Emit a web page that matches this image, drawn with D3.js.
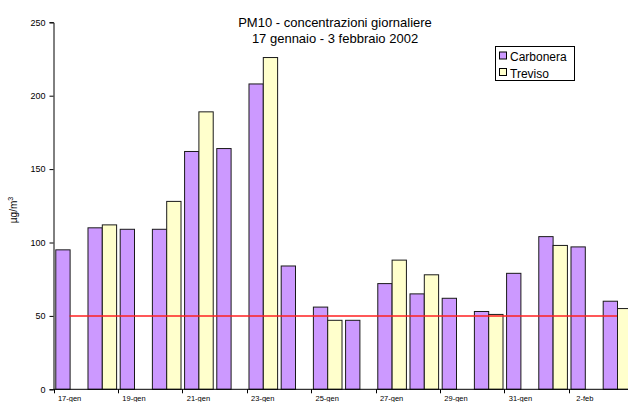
<!DOCTYPE html>
<html>
<head>
<meta charset="utf-8">
<script src="https://cdn.jsdelivr.net/npm/d3@7"></script>
<style>
  body { margin: 0; background: #fff; overflow: hidden; }
  svg { display: block; font-family: "Liberation Sans", Arial, sans-serif; }
</style>
</head>
<body>
<div class="chart"></div>
<script>
// giorni (categorie)
var days = ["17-gen", "18-gen", "19-gen", "20-gen", "21-gen", "22-gen", "23-gen", "24-gen", "25-gen",
            "26-gen", "27-gen", "28-gen", "29-gen", "30-gen", "31-gen", "1-feb", "2-feb", "3-feb"];
var series = ["Carbonera", "Treviso"];
var carbonera = [95, 110, 109, 109, 162, 164, 208, 84, 56, 47, 72, 65, 62, 53, 79, 104, 97, 60];
var treviso = [null, 112, null, 128, 189, null, 226, null, 47, null, 88, 78, null, 51, null, 98, null, 55];
var limit = [50, 50, 50, 50, 50, 50, 50, 50, 50, 50, 50, 50, 50, 50, 50, 50, 50, 50];
var yTicks = [0, 50, 100, 150, 200, 250];
var titleLines = ["PM10 - concentrazioni giornaliere", "17 gennaio - 3 febbraio 2002"];

(function(){
    var width = 628, height = 402;
    var colors = { Carbonera: "#cc99ff", Treviso: "#ffffcc" };

    var svg = d3.select(".chart").append("svg")
                .attr("width", width)
                .attr("height", height);

    // plot area runs past the right edge, like the original crop
    var x0 = d3.scaleBand().domain(days).range([53.5, 633.1]).padding(0);
    var x1 = d3.scaleBand().domain(series).range([0, x0.bandwidth()])
               .paddingInner(0).paddingOuter(0.125);
    var y = d3.scaleLinear().domain([0, 250]).range([389.3, 22.3]);

    // rows: one per day
    var rows = days.map(function(d, i) {
        return { day: d, values: [
            { key: "Carbonera", value: carbonera[i] },
            { key: "Treviso", value: treviso[i] }
        ].filter(function(v) { return v.value !== null; }) };
    });

    svg.append("g")
       .selectAll("g")
       .data(rows)
       .enter()
       .append("g")
       .attr("transform", function(d) { return "translate(" + x0(d.day) + ",0)"; })
       .selectAll("rect")
       .data(function(d) { return d.values; })
       .enter()
       .append("rect")
       .attr("x", function(d) { return x1(d.key) + 0.5; })
       .attr("y", function(d) { return y(d.value); })
       .attr("width", x1.bandwidth())
       .attr("height", function(d) { return y(0) - y(d.value); })
       .attr("fill", function(d) { return colors[d.key]; })
       .attr("stroke", "#1a1a1a")
       .attr("stroke-width", 1);

    // limit line 50
    var line = d3.line()
                 .x(function(d, i) { return x0(days[i]) + x0.bandwidth() / 2; })
                 .y(function(d) { return y(d); });
    svg.append("path")
       .datum(limit)
       .attr("d", line)
       .attr("fill", "none")
       .attr("stroke", "#ff2020")
       .attr("stroke-width", 1.5);

    // y axis
    var yAxis = d3.axisLeft(y).tickValues(yTicks).tickSize(4).tickPadding(4);
    var gy = svg.append("g")
                .attr("transform", "translate(53.5,0)")
                .call(yAxis);
    gy.select(".domain").attr("stroke", "#000");
    gy.selectAll("text").style("font-size", "9px").attr("fill", "#000")
      .style("font-family", "'Liberation Sans', Arial, sans-serif");

    // x axis: ticks every two days, on category boundaries
    var bounds = days.filter(function(d, i) { return i % 2 === 0; });
    var gx = svg.append("g").attr("transform", "translate(0," + y(0) + ")");
    gx.append("line")
      .attr("x1", 53.5).attr("x2", width)
      .attr("stroke", "#000");
    gx.selectAll("line.tick")
      .data(bounds)
      .enter()
      .append("line")
      .attr("class", "tick")
      .attr("x1", function(d) { return Math.round(x0(d)) + 0.5; })
      .attr("x2", function(d) { return Math.round(x0(d)) + 0.5; })
      .attr("y1", 0).attr("y2", 4)
      .attr("stroke", "#000");
    gx.selectAll("text")
      .data(bounds)
      .enter()
      .append("text")
      .attr("x", function(d) { return x0(d) + x0.bandwidth() / 2; })
      .attr("y", 12)
      .attr("text-anchor", "middle")
      .style("font-size", "7.5px")
      .text(function(d) { return d; });

    // y label
    var yl = svg.append("text")
                .attr("transform", "translate(17,210) rotate(-90)")
                .attr("text-anchor", "middle")
                .style("font-size", "10px");
    yl.append("tspan").text("\u00b5g/m");
    yl.append("tspan").attr("dy", -4).style("font-size", "7px").text("3");

    // title
    svg.append("g")
       .selectAll("text")
       .data(titleLines)
       .enter()
       .append("text")
       .attr("x", 335)
       .attr("y", function(d, i) { return 27.3 + i * 16; })
       .attr("text-anchor", "middle")
       .style("font-size", "13px")
       .text(function(d) { return d; });

    // legend
    var lg = svg.append("g").attr("transform", "translate(495.5,46.5)");
    lg.append("rect")
      .attr("width", 79).attr("height", 34)
      .attr("fill", "#fff").attr("stroke", "#000");
    var items = lg.selectAll("g")
                  .data(series)
                  .enter()
                  .append("g")
                  .attr("transform", function(d, i) { return "translate(0," + (i * 16.5) + ")"; });
    items.append("rect")
         .attr("x", 4).attr("y", 5.5)
         .attr("width", 7).attr("height", 7)
         .attr("fill", function(d) { return colors[d]; })
         .attr("stroke", "#000");
    items.append("text")
         .attr("x", 14.5).attr("y", 14.5)
         .style("font-size", "12px")
         .text(function(d) { return d; });
})();
</script>
</body>
</html>
